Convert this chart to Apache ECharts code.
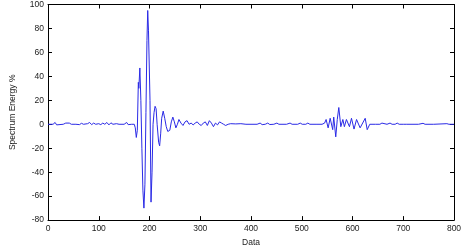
<!DOCTYPE html>
<html>
<head>
<meta charset="utf-8">
<script src="https://cdn.jsdelivr.net/npm/echarts@6/dist/echarts.min.js"></script>
<style>html,body{margin:0;padding:0;background:#fff}#c{width:474px;height:252px}</style>
</head>
<body>
<div id="c"></div>
<script>
const xTicks = [0,100,200,300,400,500,600,700,800];
const yTicks = [-80,-60,-40,-20,0,20,40,60,80,100];
const sampleX = [
0,10,14,17,20,30,35,38,42,46,55,58,62,66,70,78,82,86,90,94,100,104,108,112,116,120,124,128,135,140,150,155,158,161,165,170,
172,174,176,178,179,181,183,185,187,189,191,193,195,196.5,198,199,201,203,205,207,209,211,213,215,218,220,222,224,227,230,233,236,240,243,246,249,252,255,258,262,266,270,274,278,282,286,290,294,298,302,306,310,314,318,322,326,330,334,338,342,346,350,355,360,370,380,390,
400,412,418,422,428,433,437,445,451,455,470,477,481,492,497,501,508,512,516,530,
540,545,548,552,556,561,563,567,570,573,577,581,584,588,594,598,603,608,615,625,629,634,
645,654,658,668,674,678,684,688,692,700,703,707,730,739,743,760,786,790,800
];
const sampleY = [
0,0,1.5,-0.5,0.3,0,1,-0.5,1,0,0,1,-0.3,0.8,0,0.5,1.5,-0.3,1,0,0.5,-0.3,1,0,1.5,-0.5,1.2,0,0.5,0,0,1.5,-0.3,1.2,0,0,
-3,-11,-5,35,30,47,20,-20,-55,-70,-50,10,70,95,78,77,20,-65,-40,0,10,15,13,0,-15,-18,-8,5,11,5,-2,-6,-5,2,6,2,-3,0,4,1,-1,2,3,0,1,-0.5,1,2,0,-1,1,2,-1,3,1,-2,1,-0.5,2,1,0,-1,0,0.5,0.3,0.5,0,
0,0,1,-0.3,0,1,-0.2,0,1,0,0,1,0,0,1,0,0,1,0,0,
0,1,4,-3,5,-4.5,6,-10.5,4,14,-2,4,-2,4,-2,5,-4,4,-3,5,-4.5,0,
0,0,1,0,1,0,0,1,0,0,1,0,0,0.8,0,0,0.5,0,0
];
const seriesData = sampleX.map((x, i) => [x, sampleY[i]]);

const chart = echarts.init(document.getElementById('c'), null, {renderer: 'canvas'});
const font = 'Liberation Sans, Arial, sans-serif';
const lineStyle = {color: '#000', width: 1};
chart.setOption({
  animation: false,
  backgroundColor: '#fff',
  grid: {left: 48, right: 20, top: 4, bottom: 25, containLabel: false},
  xAxis: [{
    type: 'value', min: xTicks[0], max: xTicks[xTicks.length-1], interval: 100,
    name: 'Data', nameLocation: 'middle', nameGap: 17,
    nameTextStyle: {fontFamily: font, fontSize: 8.5, color: '#222'},
    axisLine: {lineStyle: lineStyle, onZero: false},
    axisTick: {inside: true, length: 4, lineStyle: lineStyle},
    axisLabel: {fontFamily: font, fontSize: 8.5, color: '#222', margin: 4, showMaxLabel: true},
    splitLine: {show: false}
  }, {
    type: 'value', position: 'top', min: xTicks[0], max: xTicks[xTicks.length-1], interval: 100,
    axisLine: {lineStyle: lineStyle, onZero: false},
    axisTick: {inside: true, length: 4, lineStyle: lineStyle},
    axisLabel: {show: false}, splitLine: {show: false}
  }],
  yAxis: [{
    type: 'value', min: yTicks[0], max: yTicks[yTicks.length-1], interval: 20,
    name: 'Spectrum Energy %', nameLocation: 'middle', nameGap: 31,
    nameTextStyle: {fontFamily: font, fontSize: 8.5, color: '#222'},
    axisLine: {show: true, lineStyle: lineStyle, onZero: false},
    axisTick: {show: true, inside: true, length: 4, lineStyle: lineStyle},
    axisLabel: {fontFamily: font, fontSize: 8.5, color: '#222', margin: 4},
    splitLine: {show: false}
  }, {
    type: 'value', position: 'right', min: yTicks[0], max: yTicks[yTicks.length-1], interval: 20,
    axisLine: {show: true, lineStyle: lineStyle, onZero: false},
    axisTick: {show: true, inside: true, length: 4, lineStyle: lineStyle},
    axisLabel: {show: false}, splitLine: {show: false}
  }],
  series: [{
    type: 'line', data: seriesData, showSymbol: false, symbol: 'none',
    lineStyle: {color: '#2a2ae6', width: 1}, itemStyle: {color: '#2a2ae6'},
    xAxisIndex: 0, yAxisIndex: 0
  }]
});
</script>
</body>
</html>
